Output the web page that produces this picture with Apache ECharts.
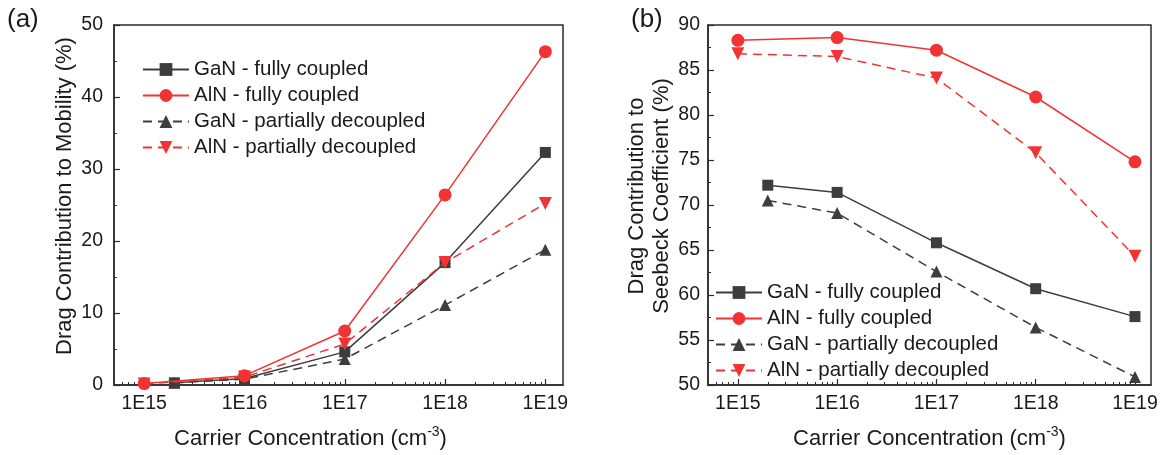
<!DOCTYPE html>
<html>
<head>
<meta charset="utf-8">
<script src="https://cdn.jsdelivr.net/npm/echarts@6/dist/echarts.min.js"></script>
<style>
html,body{margin:0;padding:0;background:#fff;}
#chart{width:1167px;height:455px;}
</style>
</head>
<body>
<div id="chart"></div>
<script>
// ---- data ----
const seriesNames = ['GaN - fully coupled', 'AlN - fully coupled', 'GaN - partially decoupled', 'AlN - partially decoupled'];
const concGaN = [2e15, 1e16, 1e17, 1e18, 1e19];
const concAlN = [1e15, 1e16, 1e17, 1e18, 1e19];

// (a) Drag contribution to mobility (%)
const mobGaNFull = [0.3, 0.9, 4.6, 17.0, 32.3];
const mobAlNFull = [0.2, 1.3, 7.5, 26.4, 46.3];
const mobGaNPart = [0.3, 0.8, 3.6, 11.1, 18.8];
const mobAlNPart = [0.15, 1.1, 5.7, 17.0, 25.2];

// (b) Drag contribution to Seebeck coefficient (%)
const seeGaNFull = [72.2, 71.4, 65.8, 60.7, 57.6];
const seeAlNFull = [88.3, 88.6, 87.2, 82.0, 74.8];
const seeGaNPart = [70.5, 69.1, 62.6, 56.4, 50.9];
const seeAlNPart = [86.8, 86.5, 84.1, 75.8, 64.3];

// tick labels
const majorTicks = [1e15, 1e16, 1e17, 1e18, 1e19];
const minorMultipliers = [2, 3, 4, 5, 6, 7, 8, 9];
const decades = [14, 15, 16, 17, 18];

// ---- styling ----
const FONT = '"Liberation Sans", Arial, sans-serif';
const GRAY = '#3d3d3d';
const RED = '#f23333';
const AXIS = '#2b2b2b';
const TXT = '#1a1a1a';

const minorTicks = [];
decades.forEach(d => minorMultipliers.forEach(m => minorTicks.push(m * Math.pow(10, d))));

const zip = (xs, ys) => xs.map((x, i) => [x, ys[i]]);
const fmtE = v => '1E' + Math.round(Math.log10(v));

function mainX(gridIndex, min, max, namePad) {
  return {
    type: 'log', logBase: 10, gridIndex, min, max, position: 'bottom',
    name: 'Carrier Concentration (cm{sup|-3})',
    nameLocation: 'middle', nameGap: 40,
    nameTextStyle: { fontFamily: FONT, fontSize: 22, color: TXT, padding: namePad,
      rich: { sup: { fontFamily: FONT, fontSize: 14, color: TXT, padding: [0, 0, 14, 0] } } },
    axisLine: { show: true, lineStyle: { color: AXIS, width: 1.5 } },
    axisTick: { show: true, inside: true, length: 6, customValues: majorTicks, lineStyle: { color: AXIS, width: 1.2 } },
    axisLabel: { customValues: majorTicks, formatter: fmtE, fontFamily: FONT, fontSize: 19.5, color: TXT, margin: 9 },
    splitLine: { show: false }, minorTick: { show: false }
  };
}
function minorX(gridIndex, min, max) {
  return {
    type: 'log', logBase: 10, gridIndex, min, max, position: 'bottom',
    axisLine: { show: false },
    axisTick: { show: true, inside: true, length: 3, customValues: minorTicks, lineStyle: { color: AXIS, width: 1 } },
    axisLabel: { show: false },
    splitLine: { show: false }
  };
}
function yAx(gridIndex, min, max, interval, name, nameGap, margin) {
  return {
    type: 'value', gridIndex, min, max, interval,
    name, nameLocation: 'middle', nameGap,
    nameTextStyle: { fontFamily: FONT, fontSize: 22, color: TXT, lineHeight: 25, padding: [0, 0, 0, 18] },
    axisLine: { show: true, lineStyle: { color: AXIS, width: 1.5 } },
    axisTick: { show: true, inside: true, length: 6, lineStyle: { color: AXIS, width: 1.2 } },
    minorTick: { show: true, splitNumber: 2, length: 3, lineStyle: { color: AXIS, width: 1 } },
    axisLabel: { fontFamily: FONT, fontSize: 19.5, color: TXT, margin },
    splitLine: { show: false }, minorSplitLine: { show: false }
  };
}

const DOWN_TRI = 'path://M0,0L10,0L5,9Z';
function mk(name, xi, yi, xs, ys, color, dashed, symbol, size) {
  return {
    type: 'line', name, xAxisIndex: xi, yAxisIndex: yi,
    data: zip(xs, ys),
    symbol, symbolSize: size, showSymbol: true,
    itemStyle: { color },
    lineStyle: { color, width: 1.5, type: dashed ? [9, 6] : 'solid' },
    z: color === RED ? 3 : 2,
    emphasis: { disabled: true }
  };
}

const legendCommon = {
  orient: 'vertical', itemWidth: 46, itemHeight: 16, itemGap: 5, padding: 0,
  data: seriesNames,
  textStyle: { fontFamily: FONT, fontSize: 20.5, color: TXT, lineHeight: 20 },
  selectedMode: false
};

const option = {
  animation: false,
  backgroundColor: '#fff',
  graphic: [
    { type: 'text', left: 7, top: 7, style: { text: '(a)', font: '26px ' + FONT, fill: TXT } },
    { type: 'text', left: 631, top: 7, style: { text: '(b)', font: '26px ' + FONT, fill: TXT } }
  ],
  grid: [
    { left: 114, right: 604, top: 25, bottom: 69, show: true, borderColor: AXIS, borderWidth: 1.5, backgroundColor: 'transparent' },
    { left: 708, right: 16, top: 25, bottom: 69, show: true, borderColor: AXIS, borderWidth: 1.5, backgroundColor: 'transparent' }
  ],
  xAxis: [
    mainX(0, 5e14, 1.5e19, [0, 56, 0, 0]), minorX(0, 5e14, 1.5e19),
    mainX(1, 5e14, 1.45e19, [0, 0, 0, 0]), minorX(1, 5e14, 1.45e19)
  ],
  yAxis: [
    yAx(0, 0, 50, 10, 'Drag Contribution to Mobility (%)', 36, 11),
    yAx(1, 50, 90, 5, 'Drag Contribution to\nSeebeck Coefficient (%)', 30, 8)
  ],
  legend: [
    Object.assign({ left: 142, top: 59 }, legendCommon),
    Object.assign({ left: 715, top: 282 }, legendCommon)
  ],
  series: [
    mk(seriesNames[0], 0, 0, concGaN, mobGaNFull, GRAY, false, 'rect', 11),
    mk(seriesNames[1], 0, 0, concAlN, mobAlNFull, RED, false, 'circle', 13),
    mk(seriesNames[2], 0, 0, concGaN, mobGaNPart, GRAY, true, 'triangle', 12),
    mk(seriesNames[3], 0, 0, concAlN, mobAlNPart, RED, true, DOWN_TRI, 13),
    mk(seriesNames[0], 2, 1, concGaN, seeGaNFull, GRAY, false, 'rect', 11),
    mk(seriesNames[1], 2, 1, concAlN, seeAlNFull, RED, false, 'circle', 13),
    mk(seriesNames[2], 2, 1, concGaN, seeGaNPart, GRAY, true, 'triangle', 12),
    mk(seriesNames[3], 2, 1, concAlN, seeAlNPart, RED, true, DOWN_TRI, 13)
  ]
};

const chart = echarts.init(document.getElementById('chart'), null, { renderer: 'canvas' });
chart.setOption(option);
</script>
</body>
</html>
